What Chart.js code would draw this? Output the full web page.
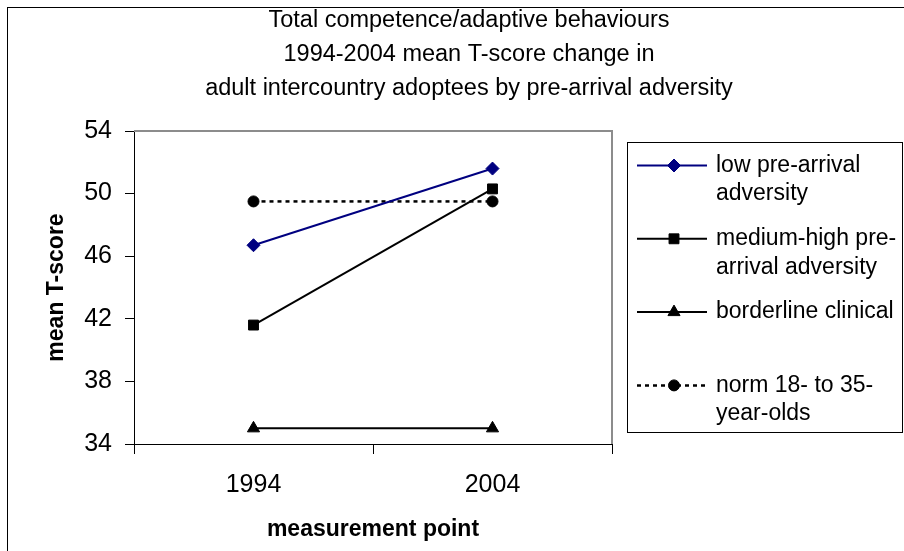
<!DOCTYPE html>
<html>
<head>
<meta charset="utf-8">
<script src="https://cdn.jsdelivr.net/npm/chart.js@4/dist/chart.umd.min.js"></script>
<style>
  html, body { margin: 0; padding: 0; background: #fff; overflow: hidden; }
  #wrap { width: 904px; height: 551px; }
</style>
</head>
<body>
<div id="wrap"><canvas id="tscore" width="904" height="551"></canvas></div>
<script>
const categories = ['1994', '2004'];

const lowAdversity = [46.7, 51.6];
const mediumHighAdversity = [41.6, 50.3];
const borderlineClinical = [35.0, 35.0];
const normAdults = [49.5, 49.5];

const seriesLabels = [
  ['low pre-arrival', 'adversity'],
  ['medium-high pre-', 'arrival adversity'],
  ['borderline clinical'],
  ['norm 18- to 35-', 'year-olds']
];

const yTickValues = [34, 38, 42, 46, 50, 54];

const titleLines = [
  'Total competence/adaptive behaviours',
  '1994-2004 mean T-score change in',
  'adult intercountry adoptees by pre-arrival adversity'
];

const fontFamily = "'Liberation Sans', Arial, sans-serif";
Chart.defaults.font.family = fontFamily;
Chart.defaults.color = '#000';

// frame, title, plot border and the line+marker legend on the right
const chartDecor = {
  id: 'chartDecor',
  beforeDraw(chart) {
    const ctx = chart.ctx;
    ctx.save();
    ctx.fillStyle = '#fff';
    ctx.fillRect(0, 0, chart.width, chart.height);
    ctx.strokeStyle = '#000';
    ctx.lineWidth = 1;
    ctx.strokeRect(7.5, 7.5, chart.width + 40, chart.height + 40);
    ctx.restore();
  },
  afterDatasetsDraw(chart) {
    const ctx = chart.ctx;
    const area = chart.chartArea;
    ctx.save();

    // grey frame on top and right of the plot
    ctx.strokeStyle = '#8c8c8c';
    ctx.lineWidth = 2;
    ctx.beginPath();
    ctx.moveTo(area.left, area.top);
    ctx.lineTo(area.right, area.top);
    ctx.lineTo(area.right, area.bottom);
    ctx.stroke();

    // title
    ctx.fillStyle = '#000';
    ctx.font = '23.5px ' + fontFamily;
    ctx.textAlign = 'center';
    ctx.textBaseline = 'alphabetic';
    titleLines.forEach((line, i) => {
      ctx.fillText(line, 469, 27 + i * 34);
    });

    // legend
    ctx.strokeStyle = '#000';
    ctx.lineWidth = 1;
    ctx.strokeRect(627.5, 142.5, 275, 290);

    ctx.font = '23px ' + fontFamily;
    ctx.textAlign = 'left';
    ctx.textBaseline = 'middle';
    chart.data.datasets.forEach((ds, i) => {
      const y = 165.5 + i * 73.3;
      ctx.save();
      ctx.strokeStyle = ds.borderColor;
      ctx.lineWidth = ds.borderWidth;
      ctx.setLineDash(ds.borderDash || []);
      ctx.beginPath();
      ctx.moveTo(637, y);
      ctx.lineTo(707, y);
      ctx.stroke();
      ctx.setLineDash([]);
      ctx.fillStyle = ds.pointBackgroundColor;
      ctx.strokeStyle = ds.pointBorderColor;
      ctx.lineWidth = 1;
      Chart.helpers.drawPoint(ctx, {
        pointStyle: ds.pointStyle,
        radius: ds.pointRadius,
        rotation: 0,
        borderWidth: 1
      }, 674, y);
      ctx.restore();
      seriesLabels[i].forEach((text, j) => {
        ctx.fillText(text, 716, y + j * 28.5);
      });
    });

    ctx.restore();
  }
};

function series(label, data, color, style, radius, dash) {
  return {
    label: label.join(' '),
    data: data,
    borderColor: color,
    backgroundColor: color,
    pointBackgroundColor: color,
    pointBorderColor: color,
    borderWidth: dash ? 2.5 : 2,
    borderDash: dash,
    pointStyle: style,
    pointRadius: radius,
    pointBorderWidth: 1,
    tension: 0
  };
}

new Chart(document.getElementById('tscore'), {
  type: 'line',
  data: {
    labels: categories,
    datasets: [
      series(seriesLabels[0], lowAdversity, '#000080', 'rectRot', 6.5),
      series(seriesLabels[1], mediumHighAdversity, '#000', 'rect', 7),
      series(seriesLabels[2], borderlineClinical, '#000', 'triangle', 7),
      series(seriesLabels[3], normAdults, '#000', 'circle', 5.5, [4, 4])
    ]
  },
  options: {
    responsive: false,
    animation: false,
    layout: { padding: { left: 0, top: 131, right: 292, bottom: 0 } },
    plugins: {
      legend: { display: false },
      title: { display: false },
      tooltip: { enabled: false }
    },
    scales: {
      x: {
        type: 'category',
        offset: true,
        grid: { offset: true, drawOnChartArea: false, tickLength: 10, color: '#000' },
        border: { color: '#000', width: 1 },
        ticks: { font: { size: 25 }, padding: 16, color: '#000' },
        title: {
          display: true,
          text: 'measurement point',
          font: { size: 23, weight: 'bold' },
          padding: { top: 0, bottom: 8 }
        },
        afterFit: (scale) => { scale.height = 107; }
      },
      y: {
        min: yTickValues[0],
        max: yTickValues[yTickValues.length - 1],
        afterBuildTicks: (scale) => {
          scale.ticks = yTickValues.map((v) => ({ value: v }));
        },
        grid: { drawOnChartArea: false, tickLength: 9, color: '#000' },
        border: { color: '#000', width: 1 },
        ticks: { font: { size: 25 }, padding: 13, color: '#000' },
        title: {
          display: true,
          text: 'mean T-score',
          font: { size: 23, weight: 'bold' },
          padding: { top: 43, bottom: 0 }
        },
        afterFit: (scale) => { scale.width = 134; }
      }
    }
  },
  plugins: [chartDecor]
});
</script>
</body>
</html>
